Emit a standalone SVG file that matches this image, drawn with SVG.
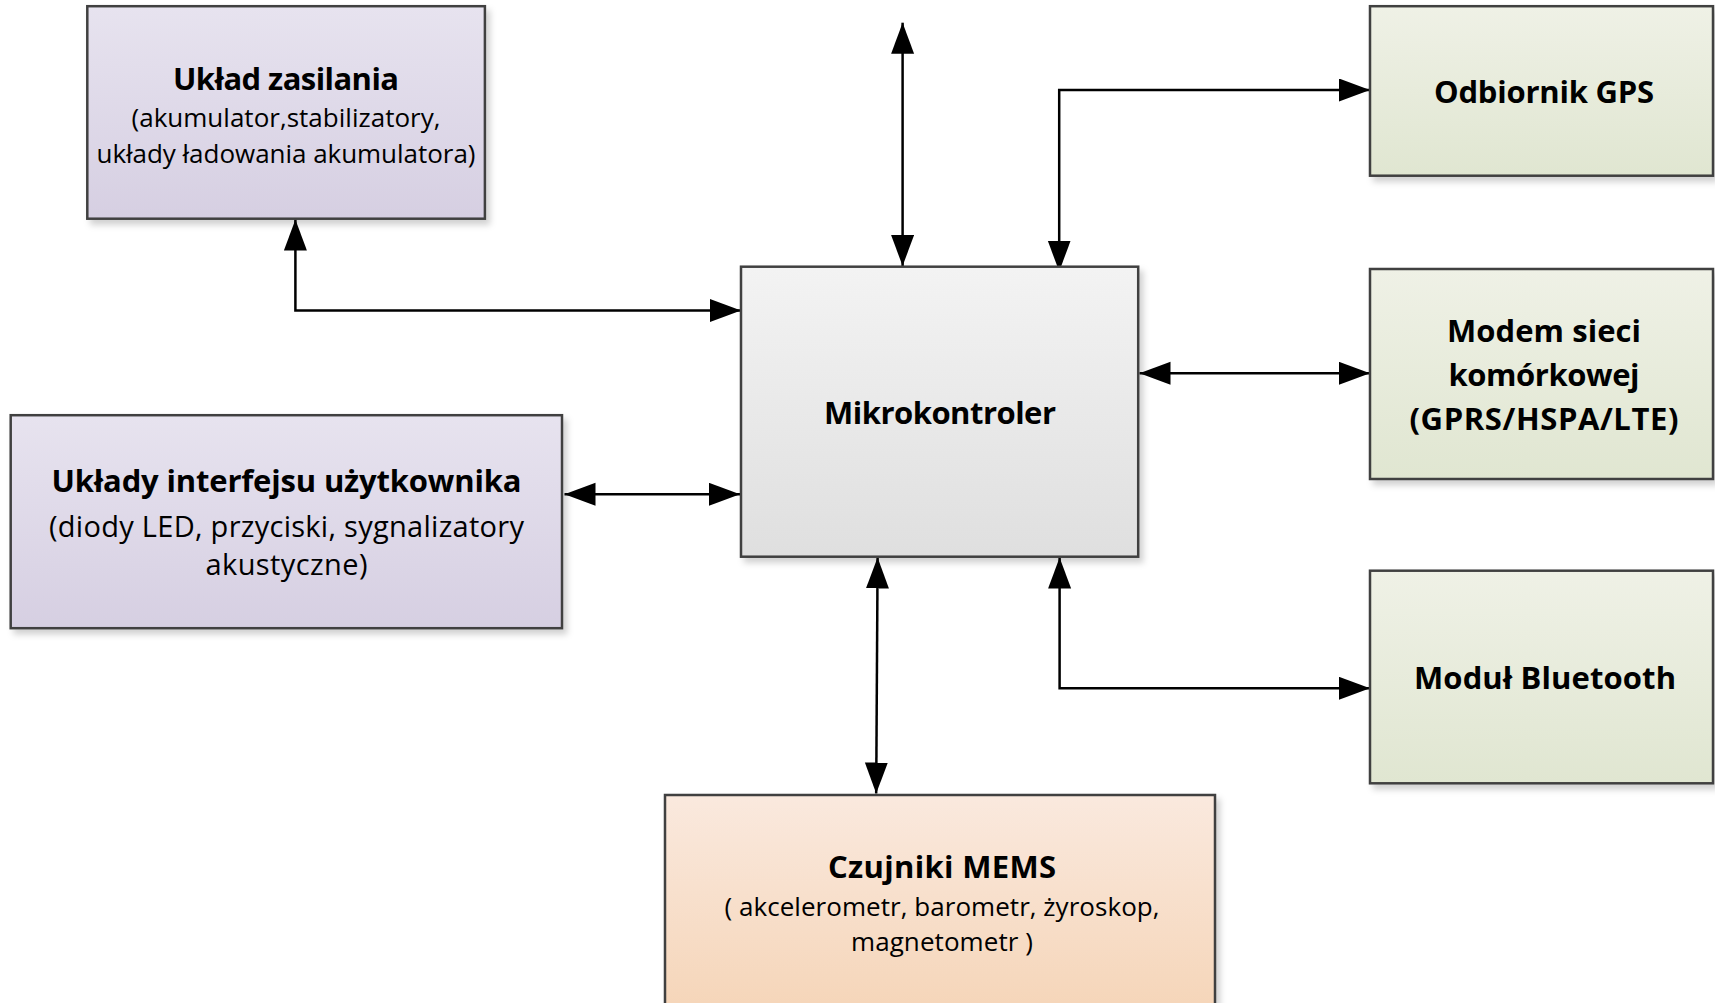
<svg xmlns="http://www.w3.org/2000/svg" width="1715" height="1003" viewBox="0 0 1715 1003">
<style>
.box{stroke:#404040;stroke-width:2.5}
.t{font-family:"Open Sans","Liberation Sans",sans-serif;fill:#000;text-anchor:middle}
.b{font-weight:bold;font-size:31px}
.r{font-size:26px}
.r2{font-size:29px}
.c{fill:none;stroke:#000;stroke-width:2.5;marker-start:url(#ah);marker-end:url(#ah)}
</style>
<defs>
<linearGradient id="gPurple" x1="0" y1="0" x2="0" y2="1"><stop offset="0" stop-color="#e7e3ef"/><stop offset="1" stop-color="#d6cfe2"/></linearGradient>
<linearGradient id="gGrey" x1="0" y1="0" x2="0" y2="1"><stop offset="0" stop-color="#f3f3f3"/><stop offset="1" stop-color="#dfdfdf"/></linearGradient>
<linearGradient id="gGreen" x1="0" y1="0" x2="0" y2="1"><stop offset="0" stop-color="#eff1e6"/><stop offset="1" stop-color="#e0e6d1"/></linearGradient>
<linearGradient id="gOrange" x1="0" y1="0" x2="0" y2="1"><stop offset="0" stop-color="#fae9de"/><stop offset="1" stop-color="#f5d4b6"/></linearGradient>
<filter id="sh" x="-5%" y="-5%" width="115%" height="115%"><feDropShadow dx="4" dy="5" stdDeviation="3" flood-color="#000" flood-opacity="0.18"/></filter>
<marker id="ah" markerUnits="userSpaceOnUse" markerWidth="32" markerHeight="24" refX="31" refY="11.5" orient="auto-start-reverse"><path d="M0,0 L31,11.5 L0,23 Z" fill="#000"/></marker>
</defs>
<g id="connectors">
<path class="c" d="M741,310.5 H295.4 V219.5"/>
<path class="c" d="M902.6,266 V22.7"/>
<path class="c" d="M1059.2,271.5 V90 H1370"/>
<path class="c" d="M1139.5,373.3 H1370"/>
<path class="c" d="M564.5,494.3 H740"/>
<path class="c" d="M877.6,557.5 L876.2,793.5"/>
<path class="c" d="M1059.6,557.5 V688.3 H1370"/>
</g>
<g id="uklad-zasilania">
<rect class="box" x="87.3" y="6.2" width="397.6" height="212.5" fill="url(#gPurple)" filter="url(#sh)"/>
<text class="t b" x="286" y="90" textLength="226">Układ zasilania</text>
<text class="t r" x="286" y="127" textLength="309">(akumulator,stabilizatory,</text>
<text class="t r" x="286" y="162.5" textLength="379">układy ładowania akumulatora)</text>
</g>
<g id="mikrokontroler">
<rect class="box" x="741" y="266.7" width="397.2" height="290" fill="url(#gGrey)" filter="url(#sh)"/>
<text class="t b" x="940" y="424" textLength="232">Mikrokontroler</text>
</g>
<g id="odbiornik-gps">
<rect class="box" x="1370" y="6.2" width="343" height="169.5" fill="url(#gGreen)" filter="url(#sh)"/>
<text class="t b" x="1544" y="102.5" textLength="220">Odbiornik GPS</text>
</g>
<g id="modem">
<rect class="box" x="1370" y="269" width="343" height="210" fill="url(#gGreen)" filter="url(#sh)"/>
<text class="t b" x="1544" y="341.7" textLength="194">Modem sieci</text>
<text class="t b" x="1544" y="386.2" textLength="191">komórkowej</text>
<text class="t b" x="1544" y="430" textLength="269">(GPRS/HSPA/LTE)</text>
</g>
<g id="interfejs">
<rect class="box" x="10.7" y="415.2" width="551.3" height="213" fill="url(#gPurple)" filter="url(#sh)"/>
<text class="t b" x="286.5" y="491.7" textLength="470">Układy interfejsu użytkownika</text>
<text class="t r2" x="286.5" y="537" textLength="475">(diody LED, przyciski, sygnalizatory</text>
<text class="t r2" x="286.5" y="575" textLength="162">akustyczne)</text>
</g>
<g id="bluetooth">
<rect class="box" x="1370" y="570.7" width="343" height="212.6" fill="url(#gGreen)" filter="url(#sh)"/>
<text class="t b" x="1545" y="689" textLength="262">Moduł Bluetooth</text>
</g>
<g id="mems">
<rect class="box" x="665" y="795" width="550" height="230" fill="url(#gOrange)" filter="url(#sh)"/>
<text class="t b" x="942" y="877.5" textLength="228">Czujniki MEMS</text>
<text class="t r" x="942" y="916" textLength="435">( akcelerometr, barometr, żyroskop,</text>
<text class="t r" x="942" y="950.5" textLength="182">magnetometr )</text>
</g>
</svg>
